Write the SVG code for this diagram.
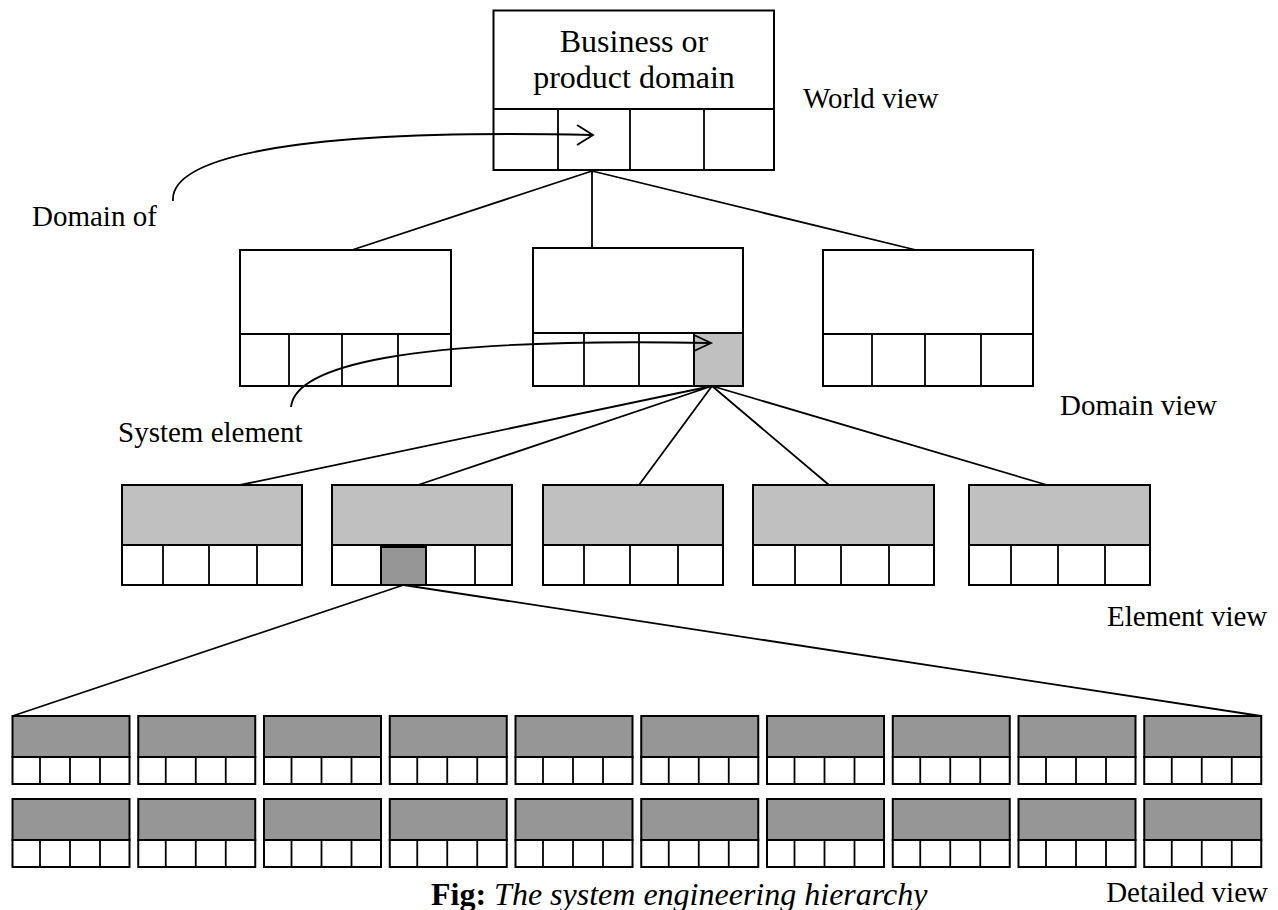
<svg xmlns="http://www.w3.org/2000/svg" width="1278" height="910" viewBox="0 0 1278 910">
<style>
.b{fill:#fff;stroke:#000;stroke-width:2}
.g{fill:#c0c0c0;stroke:#000;stroke-width:2}
.d{fill:#969696;stroke:#000;stroke-width:2}
.c{fill:none;stroke:#000;stroke-width:1.8}
.ln{stroke:#000;stroke-width:1.8;fill:none}
text{font-family:"Liberation Serif","Times New Roman",serif;fill:#000}
.lbl{font-size:29px}
.top{font-size:32px}
.cap{font-size:32px}
</style>
<defs>
<g id="cell4d">
<rect class="d" x="0" y="0" width="117" height="41"/>
<rect class="b" x="0" y="41" width="117" height="27"/>
<path class="c" d="M27.5 41V68M57.5 41V68M87.5 41V68"/>
</g>
</defs>

<g id="connectors">
<path class="ln" d="M592 171L352 250M592 171V248M592 171L916 250"/>
<path class="ln" d="M712 386L240 485M712 386L418 485M712 386L639 485M712 386L829 485M712 386L1047 485"/>
<path class="ln" d="M403.5 585L12.5 716M403.5 585L1261 716"/>
</g>

<g id="world">
<rect class="b" x="493.5" y="10.5" width="280.5" height="159.5"/>
<path class="c" d="M493.5 109H774M558 109V170M630 109V170M704 109V170"/>
<text class="top" x="634" y="52" text-anchor="middle">Business or</text>
<text class="top" x="634" y="88" text-anchor="middle">product domain</text>
</g>

<g id="domain-of-arrow">
<path class="ln" d="M173 201C170 160 280 128 592 135"/>
<path class="ln" d="M577 125L593 135L577 145"/>
</g>

<g id="domain-left">
<rect class="b" x="240" y="250" width="211" height="136"/>
<path class="c" d="M240 334H451M289 334V386M342 334V386M398 334V386"/>
</g>
<g id="domain-mid">
<rect class="b" x="533" y="248" width="210" height="138"/>
<rect class="g" x="694" y="333" width="49" height="53"/>
<path class="c" d="M533 333H743M584 333V386M639 333V386M694 333V386"/>
</g>
<g id="domain-right">
<rect class="b" x="823" y="250" width="210" height="136"/>
<path class="c" d="M823 334H1033M872 334V386M925 334V386M981 334V386"/>
</g>

<g id="system-element-arrow">
<path class="ln" d="M291 407C295 367 400 337 710 343"/>
<path class="ln" d="M694 335L711 343L694 351"/>
</g>

<g id="element-1">
<rect class="g" x="122" y="485" width="180" height="60"/>
<rect class="b" x="122" y="545" width="180" height="40"/>
<path class="c" d="M163 545V585M209 545V585M257 545V585"/>
</g>
<g id="element-2">
<rect class="g" x="332" y="485" width="180" height="60"/>
<rect class="b" x="332" y="545" width="180" height="40"/>
<rect class="d" x="381" y="547" width="45" height="38"/>
<path class="c" d="M475 545V585"/>
</g>
<g id="element-3">
<rect class="g" x="543" y="485" width="180" height="60"/>
<rect class="b" x="543" y="545" width="180" height="40"/>
<path class="c" d="M584 545V585M630 545V585M678 545V585"/>
</g>
<g id="element-4">
<rect class="g" x="753" y="485" width="181" height="60"/>
<rect class="b" x="753" y="545" width="181" height="40"/>
<path class="c" d="M795 545V585M841 545V585M889 545V585"/>
</g>
<g id="element-5">
<rect class="g" x="969" y="485" width="181" height="60"/>
<rect class="b" x="969" y="545" width="181" height="40"/>
<path class="c" d="M1011 545V585M1058 545V585M1105 545V585"/>
</g>

<g id="detailed-row-1">
<use href="#cell4d" x="12.5" y="716"/>
<use href="#cell4d" x="138.25" y="716"/>
<use href="#cell4d" x="264" y="716"/>
<use href="#cell4d" x="389.75" y="716"/>
<use href="#cell4d" x="515.5" y="716"/>
<use href="#cell4d" x="641.25" y="716"/>
<use href="#cell4d" x="767" y="716"/>
<use href="#cell4d" x="892.75" y="716"/>
<use href="#cell4d" x="1018.5" y="716"/>
<use href="#cell4d" x="1144.25" y="716"/>
</g>
<g id="detailed-row-2">
<use href="#cell4d" x="12.5" y="799"/>
<use href="#cell4d" x="138.25" y="799"/>
<use href="#cell4d" x="264" y="799"/>
<use href="#cell4d" x="389.75" y="799"/>
<use href="#cell4d" x="515.5" y="799"/>
<use href="#cell4d" x="641.25" y="799"/>
<use href="#cell4d" x="767" y="799"/>
<use href="#cell4d" x="892.75" y="799"/>
<use href="#cell4d" x="1018.5" y="799"/>
<use href="#cell4d" x="1144.25" y="799"/>
</g>

<g id="labels">
<text class="lbl" x="803" y="108">World view</text>
<text class="lbl" x="32" y="226">Domain of</text>
<text class="lbl" x="118" y="442">System element</text>
<text class="lbl" x="1060" y="415">Domain view</text>
<text class="lbl" x="1107" y="626">Element view</text>
<text class="lbl" x="1268" y="902" text-anchor="end">Detailed view</text>
<text class="cap" x="431" y="905"><tspan font-weight="bold">Fig:</tspan> <tspan font-style="italic">The system engineering hierarchy</tspan></text>
</g>
</svg>
